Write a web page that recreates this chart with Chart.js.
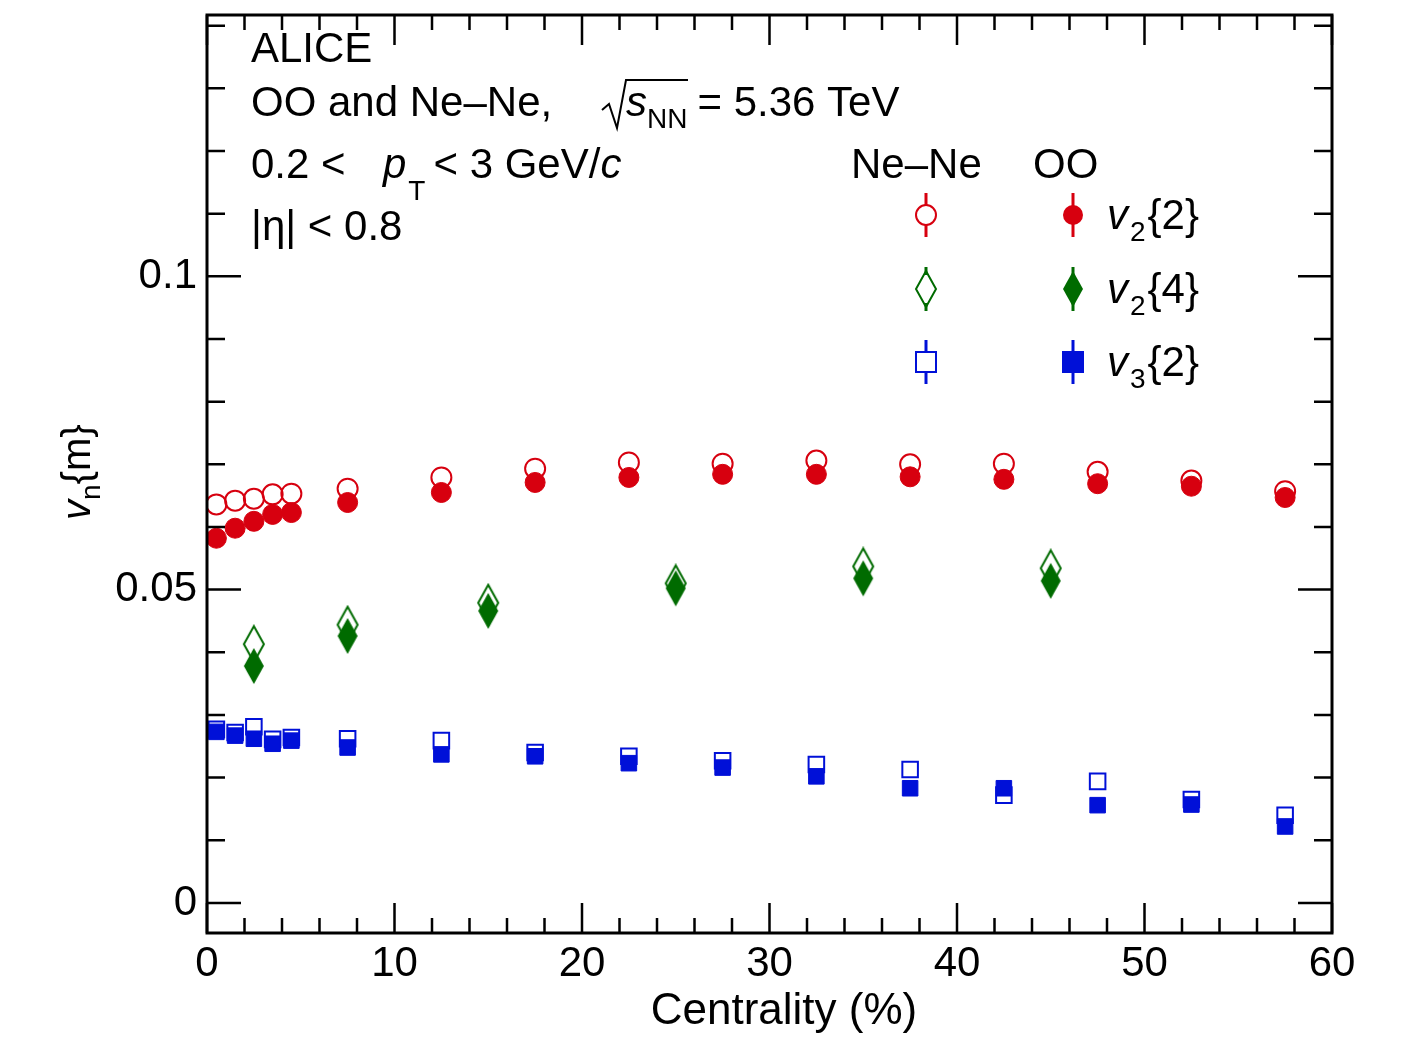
<!DOCTYPE html>
<html>
<head>
<script src="https://cdn.jsdelivr.net/npm/chart.js@4"></script>
<style>
html,body{margin:0;padding:0;background:#fff;}
#wrap{width:1426px;height:1041px;}
</style>
</head>
<body>
<div id="wrap"><canvas id="c"></canvas></div>
<script>
// Datos
const centFine = [0.5,1.5,2.5,3.5,4.5,7.5,12.5,17.5,22.5,27.5,32.5,37.5,42.5,47.5,52.5,57.5];
const centV24 = [2.5,7.5,15,25,35,45];

const neV22 = [0.0636,0.0642,0.0645,0.0652,0.0653,0.0661,0.0679,0.0693,0.0703,0.0701,0.0706,0.0700,0.0701,0.0688,0.0674,0.0657];
const ooV22 = [0.0582,0.0598,0.0609,0.0620,0.0623,0.0639,0.0655,0.0671,0.0679,0.0684,0.0684,0.0680,0.0676,0.0669,0.0665,0.0647];
const neV24 = [0.0413,0.0444,0.0479,0.0510,0.0537,0.0534];
const ooV24 = [0.0378,0.0426,0.0466,0.0502,0.0518,0.0514];
const neV32 = [0.0277,0.0272,0.0281,0.0261,0.0264,0.0262,0.0259,0.0240,0.0234,0.0227,0.0221,0.0213,0.0172,0.0194,0.0165,0.0140];
const ooV32 = [0.0273,0.0267,0.0262,0.0254,0.0259,0.0248,0.0237,0.0234,0.0223,0.0216,0.0202,0.0183,0.0183,0.0156,0.0157,0.0122];

const xTicks = [0,10,20,30,40,50,60];
const yTicks = [0,0.05,0.1];
const yTickLabels = ["0","0.05","0.1"];

const RED = "#d7000f", GREEN = "#006b00", BLUE = "#0010d8";
const F = "Arial, 'Liberation Sans', sans-serif";

function pts(xs, ys){ return xs.map((x,i)=>({x:x,y:ys[i]})); }

function serie(label, xs, ys, color, style, open, r){
    return {
        label:label,
        data:pts(xs,ys),
        showLine:false,
        pointStyle:style,
        pointRadius:r,
        borderColor:color,
        backgroundColor:open ? "rgba(0,0,0,0)" : color,
        pointBorderWidth:open ? 2 : 1
    };
}

// Marcadores tipo diamante alargado
function diamante(color, open){
    const cv = document.createElement("canvas");
    cv.width = 26; cv.height = 40;
    const g = cv.getContext("2d");
    g.beginPath();
    g.moveTo(13,2); g.lineTo(23,20); g.lineTo(13,38); g.lineTo(3,20); g.closePath();
    if(open){ g.strokeStyle = color; g.lineWidth = 2; g.stroke(); }
    else { g.fillStyle = color; g.fill(); }
    return cv;
}

// escribe trozos seguidos: [texto, fuente, dy, dx extra]
function linea(c, x, y, trozos){
    trozos.forEach(t=>{
        c.font = t[1];
        x += (t[3]||0);
        c.fillText(t[0], x, y + (t[2]||0));
        x += c.measureText(t[0]).width;
    });
    return x;
}

const marcos = {
    id:"marcos",
    afterDraw(chart){
        const c = chart.ctx, a = chart.chartArea;
        const xs = chart.scales.x, ys = chart.scales.y;
        const N = "42px " + F, I = "italic 42px " + F, S = "28px " + F;
        c.save();
        c.strokeStyle = "#000"; c.lineWidth = 3;
        c.strokeRect(a.left, a.top, a.right-a.left, a.bottom-a.top);
        c.lineWidth = 2.5;
        for(let k=0; k<=14; k++){
            const p = ys.getPixelForValue(k*0.01);
            const L = k%5===0 ? 34 : 18;
            c.beginPath();
            c.moveTo(a.left,p); c.lineTo(a.left+L,p);
            c.moveTo(a.right,p); c.lineTo(a.right-L,p);
            c.stroke();
        }
        for(let v=0; v<=60; v+=2){
            const p = xs.getPixelForValue(v);
            const L = v%10===0 ? 30 : 15;
            c.beginPath();
            c.moveTo(p,a.bottom); c.lineTo(p,a.bottom-L);
            c.moveTo(p,a.top); c.lineTo(p,a.top+L);
            c.stroke();
        }
        c.fillStyle = "#000";
        c.font = N;
        c.textAlign = "center"; c.textBaseline = "top";
        xTicks.forEach(v=>c.fillText(String(v), xs.getPixelForValue(v), a.bottom+10));
        c.textAlign = "right"; c.textBaseline = "middle";
        yTicks.forEach((v,i)=>c.fillText(yTickLabels[i], a.left-10, ys.getPixelForValue(v)));
        c.textAlign = "center"; c.textBaseline = "alphabetic";
        c.font = "44px " + F;
        c.fillText("Centrality (%)", 784, 1024);
        // título eje y
        c.save();
        c.translate(90, 520); c.rotate(-Math.PI/2);
        c.textAlign = "left";
        linea(c, 0, 0, [["v", "italic 40px "+F], ["n", "28px "+F, 10], ["{m}", "40px "+F]]);
        c.restore();
        // textos
        c.textAlign = "left";
        linea(c, 251, 62, [["ALICE", N]]);
        linea(c, 251, 116, [["OO and Ne\u2013Ne,", N]]);
        c.lineWidth = 2;
        c.beginPath(); c.moveTo(602,110); c.lineTo(609,104); c.lineTo(617,128); c.lineTo(626,80); c.lineTo(688,80); c.stroke();
        linea(c, 626, 116, [["s", I], ["NN", S, 12], ["= 5.36 TeV", N, 0, 10]]);
        linea(c, 251, 178, [["0.2 <", N]]);
        linea(c, 383, 178, [["p", I], ["T", S, 22, 2], ["< 3 GeV/", N, 0, 8], ["c", I]]);
        linea(c, 251, 240, [["|\u03b7| < 0.8", N]]);
        linea(c, 851, 178, [["Ne\u2013Ne", N]]);
        linea(c, 1033, 178, [["OO", N]]);
        // leyenda
        const filas = [
            {y:215, col:RED, s:"circle", lab:"2", h:"{2}"},
            {y:289, col:GREEN, s:"diamond", lab:"2", h:"{4}"},
            {y:362, col:BLUE, s:"square", lab:"3", h:"{2}"}
        ];
        filas.forEach(f=>{
            [[926,true],[1073,false]].forEach(([x,open])=>{
                c.strokeStyle = f.col; c.lineWidth = 3;
                c.beginPath(); c.moveTo(x,f.y-22); c.lineTo(x,f.y+22); c.stroke();
                c.lineWidth = 2;
                if(f.s==="circle"){
                    c.beginPath(); c.arc(x,f.y,10,0,Math.PI*2);
                    if(open){ c.fillStyle="#fff"; c.fill(); c.stroke(); } else { c.fillStyle=f.col; c.fill(); }
                } else if(f.s==="square"){
                    if(open){ c.fillStyle="#fff"; c.fillRect(x-10,f.y-10,20,20); c.strokeRect(x-10,f.y-10,20,20); }
                    else { c.fillStyle=f.col; c.fillRect(x-11,f.y-11,22,22); }
                } else {
                    if(open){ c.fillStyle="#fff"; c.fillRect(x-8,f.y-14,16,28); }
                    c.drawImage(diamante(f.col,open), x-13, f.y-20);
                }
            });
            c.fillStyle = "#000";
            linea(c, 1107, f.y+14, [["v", I], [f.lab, S, 12, 2], [f.h, N, 0, 2]]);
        });
        c.restore();
    }
};

new Chart(document.getElementById("c"),{
    type:"scatter",
    data:{
        datasets:[
            serie("OO v2{2}", centFine, ooV22, RED, "circle", false, 10),
            serie("Ne-Ne v2{2}", centFine, neV22, RED, "circle", true, 10),
            serie("OO v2{4}", centV24, ooV24, GREEN, diamante(GREEN,false), false, 13),
            serie("Ne-Ne v2{4}", centV24, neV24, GREEN, diamante(GREEN,true), true, 13),
            serie("OO v3{2}", centFine, ooV32, BLUE, "rect", false, 11),
            serie("Ne-Ne v3{2}", centFine, neV32, BLUE, "rect", true, 11)
        ]
    },
    options:{
        responsive:true,
        maintainAspectRatio:false,
        animation:false,
        layout:{ padding:{ left:207, right:94, top:12, bottom:108 } },
        plugins:{ legend:{ display:false }, tooltip:{ enabled:false } },
        scales:{
            x:{ type:"linear", min:0, max:60, display:false },
            y:{ type:"linear", min:-0.0048, max:0.1417, display:false }
        }
    },
    plugins:[marcos]
});
</script>
</body>
</html>
